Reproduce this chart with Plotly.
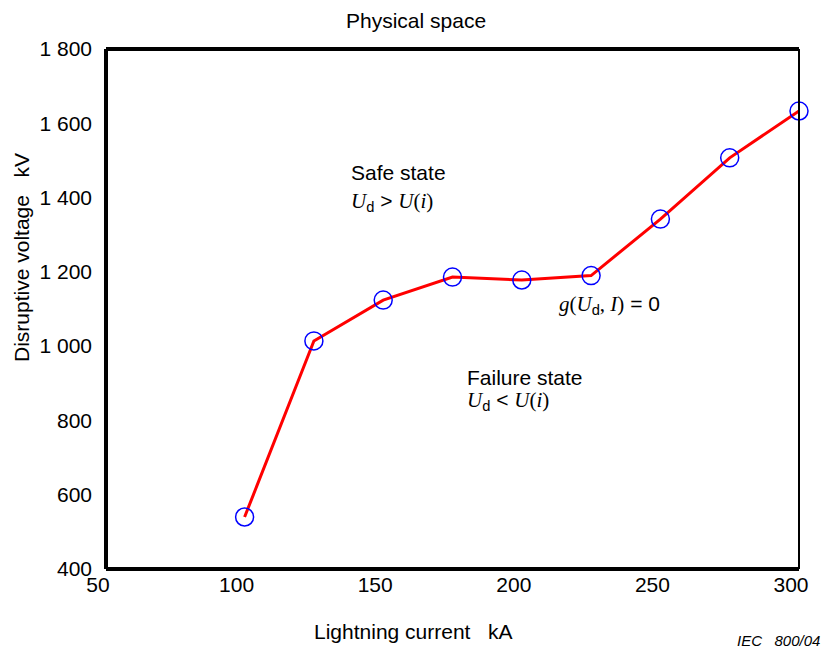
import plotly.graph_objects as go

# Data
current_kA = [100, 125, 150, 175, 200, 225, 250, 275, 300]
voltage_kV = [540, 1014, 1124, 1186, 1178, 1190, 1342, 1507, 1633]
x_ticks = [50, 100, 150, 200, 250, 300]
y_ticks = [400, 600, 800, 1000, 1200, 1400, 1600, 1800]
y_tick_text = ["400", "600", "800", "1 000", "1 200", "1 400", "1 600", "1 800"]

FONT = "Liberation Sans, Arial, sans-serif"
SERIF = "Liberation Serif, Times New Roman, serif"

W, H = 825, 652
ML, MR, MT, MB = 106, 26, 49, 83
PW, PH = W - ML - MR, H - MT - MB

fig = go.Figure()
fig.add_trace(go.Scatter(x=current_kA, y=voltage_kV, mode="lines",
                         line=dict(color="#ff0000", width=3), showlegend=False,
                         hoverinfo="skip"))
fig.add_trace(go.Scatter(x=current_kA, y=voltage_kV, mode="markers",
                         marker=dict(symbol="circle-open", size=18,
                                     line=dict(color="#0000ff", width=1.5),
                                     color="#0000ff"),
                         showlegend=False, cliponaxis=False))

fig.update_layout(
    width=W, height=H,
    margin=dict(l=ML, r=MR, t=MT, b=MB),
    paper_bgcolor="white", plot_bgcolor="white",
    font=dict(family=FONT, size=21, color="black"),
    xaxis=dict(range=[50, 300], tickvals=x_ticks, showgrid=False, zeroline=False,
               showline=False, ticks="", ticklabelshift=-8, ticklabelstandoff=1,
               automargin=False),
    yaxis=dict(range=[400, 1800], tickvals=y_ticks, ticktext=y_tick_text,
               showgrid=False, zeroline=False, showline=False, ticks="",
               ticklabelstandoff=13, automargin=False),
)

# Frame
fig.add_shape(type="line", xref="paper", yref="paper", x0=0, x1=0, y0=0, y1=1,
              line=dict(color="black", width=4))
fig.add_shape(type="line", xref="paper", yref="paper", x0=0, x1=1, y0=0, y1=0,
              line=dict(color="black", width=4))
fig.add_shape(type="line", xref="paper", yref="paper", x0=0, x1=1, y0=1, y1=1,
              line=dict(color="black", width=4))
fig.add_shape(type="line", xref="paper", yref="paper", x0=1, x1=1, y0=0, y1=1,
              line=dict(color="black", width=2))


def px_x(p):
    return (p - ML) / PW


def px_y(p):
    return (H - MB - p) / PH


def U(sub):
    return (f'<span style="font-family:{SERIF}"><i>U</i></span>'
            f'<sub>{sub}</sub>')


anns = [
    dict(text="Physical space", x=px_x(416), y=px_y(21), xanchor="center", size=21),
    dict(text="Disruptive voltage   kV", x=px_x(21), y=px_y(258), xanchor="center", size=21, textangle=-90),
    dict(text="Lightning current   kA", x=px_x(413), y=px_y(631), xanchor="center", size=21),
    dict(text="<i>IEC   800/04</i>", x=px_x(822), y=px_y(640), xanchor="right", size=15),
    dict(text="Safe state", x=px_x(349), y=px_y(172), xanchor="left", size=21),
    dict(text=U("d") + ' &gt; ' + f'<span style="font-family:{SERIF}"><i>U</i>(<i>i</i>)</span>',
         x=px_x(349), y=px_y(202), xanchor="left", size=21),
    dict(text=f'<span style="font-family:{SERIF}"><i>g</i>(</span>' + U("d")
         + f'<span style="font-family:{SERIF}">, <i>I</i>)</span> = 0',
         x=px_x(557), y=px_y(305), xanchor="left", size=21),
    dict(text="Failure state", x=px_x(465), y=px_y(377), xanchor="left", size=21),
    dict(text=U("d") + ' &lt; ' + f'<span style="font-family:{SERIF}"><i>U</i>(<i>i</i>)</span>',
         x=px_x(465), y=px_y(401), xanchor="left", size=21),
]
for a in anns:
    fig.add_annotation(xref="paper", yref="paper", x=a["x"], y=a["y"], text=a["text"],
                       showarrow=False, xanchor=a["xanchor"], yanchor="middle",
                       textangle=a.get("textangle", 0),
                       font=dict(family=FONT, size=a["size"], color="black"))

fig.write_html("out.html", post_script="document.body.style.margin='0';",
               config={"displayModeBar": False})
